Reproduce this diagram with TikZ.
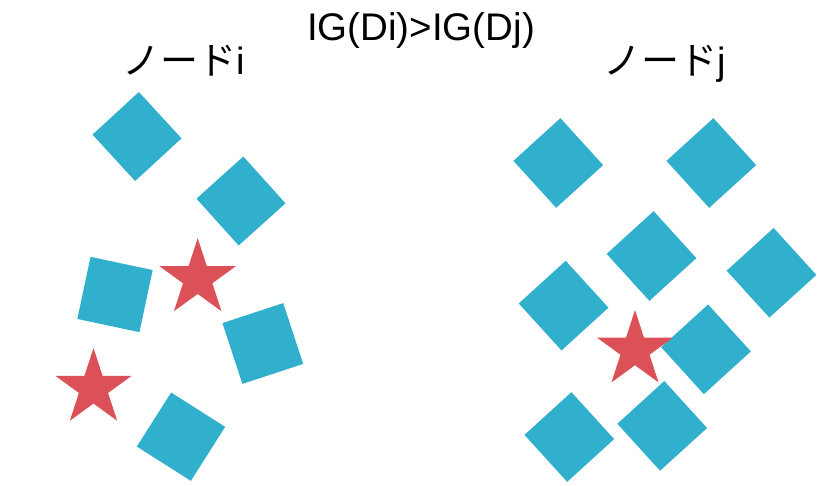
\documentclass[tikz,border=0pt]{standalone}
\usepackage{fontspec}
\setmainfont{Noto Sans CJK JP}
\newfontfamily\latinfont{Liberation Sans}
\definecolor{sqblue}{RGB}{49,176,205}
\definecolor{stred}{RGB}{220,81,87}
\tikzset{
  sqshape/.style={fill=sqblue},
  starshape/.style={fill=stred},
  lbl/.style={inner sep=0pt, anchor=base, font=\fontsize{38}{42}\selectfont},
  ttl/.style={inner sep=0pt, anchor=base, font=\latinfont\fontsize{38.5}{42}\selectfont},
}
\newcommand\mysq[4]{\fill[sqshape, shift={(#1,#2)}, rotate=#3] (-#4/2,-#4/2) rectangle (#4/2,#4/2);}
\newcommand\mystar[3]{\fill[starshape, shift={(#1,#2)}]
  (90:#3) -- (126:0.382*#3) -- (162:#3) -- (198:0.382*#3) -- (234:#3) -- (270:0.382*#3)
  -- (306:#3) -- (342:0.382*#3) -- (18:#3) -- (54:0.382*#3) -- cycle;}
\begin{document}
\begin{tikzpicture}[x=1pt,y=-1pt]
\useasboundingbox (0,0) rectangle (832,486);
\fill[white] (0,0) rectangle (832,486);
% labels
\node[ttl] (title) at (421,40.7) {IG(Di)>IG(Dj)};
\node[lbl] (ni) at (183.5,75) {ノード{\latinfont i}};
\node[lbl] (nj) at (665,75) {ノード{\latinfont j}};
% left group
\mysq{137}{136.5}{-47.4}{63}
\mysq{241}{201}{-48}{63}
\mysq{115}{294.5}{-12}{63.5}
\mysq{262.8}{343.5}{18.2}{64}
\mysq{181}{436.7}{-32.4}{64}
% right group
\mysq{558.3}{163}{-47.7}{63.5}
\mysq{711.3}{163}{-47.7}{63.5}
\mysq{651.5}{256}{-47.7}{63.5}
\mysq{771.5}{272.8}{-47.7}{63.5}
\mysq{563.6}{305.6}{-47.7}{63.5}
\mysq{706}{349.3}{-47.7}{63.5}
\mysq{569.3}{437}{-47.7}{63.5}
\mysq{662.2}{425.9}{-47.7}{63.5}
% stars
\mystar{197.7}{278.5}{-40.4}
\mystar{93.5}{388.2}{-40.2}
\mystar{635}{350}{-40}
\end{tikzpicture}
\end{document}
